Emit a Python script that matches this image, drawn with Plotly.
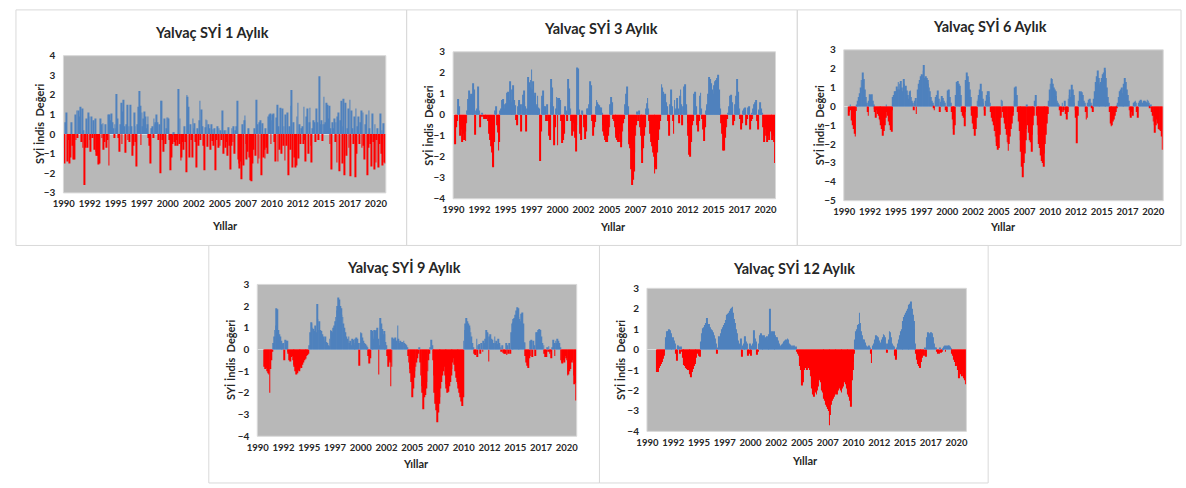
import plotly.graph_objects as go

# Monthly SPI (SYİ) values for Yalvaç, Jan 1990 - Dec 2020, one row per year
spi1 = [
    -0.7, -1.5, 0.6, 1.1, -1.4, -0.3, -1.5, -0.2, -1.2, 0.6, -0.6, -1.3,      # 1990
    -1.3, 1.0, -0.3, 1.2, -0.2, 1.2, 0.9, 1.4, -0.4, 1.3, -0.7, 0.2,          # 1991
    -2.6, -0.7, 0.8, -0.7, 1.1, 0.9, -0.3, -0.9, 0.9, -0.2, 0.7, -0.8,        # 1992
    0.8, -0.9, -1.1, -1.1, -1.55, -1.5, 0.8, 0.5, -0.2, 0.55, -0.8, -0.4,     # 1993
    0.5, -0.7, -0.3, 1.0, -1.6, 1.0, 0.7, 1.05, 0.6, 0.3, -0.2, 0.5,          # 1994
    0.3, 2.05, 0.8, -0.2, -0.9, 0.5, 1.6, -0.5, 1.15, 1.75, 0.4, -0.95,       # 1995
    0.5, 1.5, -0.3, 0.4, -0.4, 1.5, 0.4, -1.1, -0.6, 1.1, 0.4, -0.4,          # 1996
    -1.65, 0.5, 1.4, 2.2, 1.45, -0.55, 1.1, 0.4, 0.8, 1.15, 0.9, 0.3,         # 1997
    0.5, 0.9, -0.2, -0.6, -1.5, 0.3, 0.4, -0.2, 0.8, 0.5, 0.6, 1.0,           # 1998
    0.6, -0.3, 0.5, -2.0, 1.7, 1.7, -0.3, -0.9, 0.8, -0.5, 0.3, 0.85,         # 1999
    0.85, 0.8, -0.3, -1.85, -1.2, -0.5, 0.1, 0.1, -0.4, -0.6, -0.3, -0.6,     # 2000
    2.3, -0.5, 0.8, -1.35, -1.2, -0.4, -0.8, 0.4, -0.4, -1.95, 2.0, 1.9,      # 2001
    1.4, -1.2, 0.5, -0.3, -1.2, 0.8, 0.3, 0.55, -0.4, -1.7, 0.3, -0.6,        # 2002
    0.7, 1.7, -0.3, 1.25, 0.4, -0.6, -1.85, 0.35, 0.75, 0.7, -0.65, 0.5,      # 2003
    0.3, -0.8, 0.5, -0.35, 0.25, -0.6, 0.3, -1.85, -0.3, 0.4, -0.7, 0.3,      # 2004
    -0.6, 0.2, -0.3, 1.2, -1.0, 0.2, -0.7, 0.2, -0.4, -1.1, 0.35, -0.6,       # 2005
    -1.8, -0.6, 0.3, -0.4, 0.4, -1.0, 0.2, 0.4, 1.7, -1.3, -1.5, -1.75,       # 2006
    -1.4, -2.3, 0.5, -1.6, 0.7, 0.95, -0.5, -1.3, -0.9, 0.3, -1.2, -2.35,     # 2007
    -2.4, -1.2, -1.5, -0.8, 0.3, -1.1, 1.75, 0.5, -1.5, -1.25, 0.6, 0.7,      # 2008
    -2.1, 0.55, -1.2, -0.8, -1.25, 0.3, -0.7, -1.0, 0.9, 1.0, 1.05, -0.5,     # 2009
    0.7, 1.0, 1.05, -0.4, -1.4, 0.85, 1.5, -1.4, 0.4, -0.8, 1.35, -1.0,       # 2010
    1.3, -0.6, 0.4, -1.35, 1.0, -0.6, 1.1, -2.1, 0.4, -0.8, 1.45, 2.25,       # 2011
    -1.7, 0.6, -1.2, -1.7, -1.6, 0.9, 1.6, -1.25, 0.5, -0.5, 0.3, 0.4,        # 2012
    -0.5, 1.4, -0.3, -1.4, 0.9, 1.3, -1.0, 0.6, 1.35, -0.6, -1.45, 0.3,       # 2013
    0.7, 0.6, -0.4, 1.3, 0.5, 0.6, -0.3, 2.95, 0.5, 0.7, -0.35, 0.5,          # 2014
    1.9, 0.5, 0.6, 1.6, 1.5, 0.8, 1.45, -0.5, 0.3, -1.8, 0.6, 0.3,            # 2015
    0.8, -0.4, 0.6, -1.45, 0.9, 1.1, -1.9, 0.7, 1.7, -1.5, 0.4, 1.8,          # 2016
    -2.1, 1.6, -1.1, 0.3, 1.3, -0.7, 1.75, -2.15, 1.2, 0.3, -0.5, 0.9,        # 2017
    -2.2, 1.3, -1.0, 0.4, 0.9, -0.5, 0.6, 1.2, -0.7, 1.1, -0.6, -1.3,         # 2018
    0.5, 1.0, -2.1, -0.7, 1.2, 0.3, -0.5, -1.65, 1.05, -0.4, -1.8, 0.5,       # 2019
    -1.45, -0.3, 0.3, -1.7, -0.5, 1.05, -1.0, 0.2, -1.6, 0.55, -1.45, -1.5,   # 2020
]

spi3 = [
    None, None, -1.4, -0.6, -0.3, 0.75, 0.4, -0.5, -1.0, -0.7, -1.3, -0.9,    # 1990
    -1.2, -0.8, -1.25, -0.4, 0.2, 0.75, 1.15, 0.9, 1.0, 0.8, 1.0, 1.5,        # 1991
    1.2, -0.95, 0.2, 0.3, 1.35, 0.4, 0.2, -0.6, -0.1, 0.05, -0.1, -0.2,       # 1992
    -0.1, -0.2, -0.2, -0.1, -0.3, -0.9, -1.2, -1.5, -1.8, -2.45, -2.5, -1.3,  # 1993
    0.2, 0.4, -0.5, -0.85, -1.7, -1.3, 0.2, 0.3, 0.7, 0.75, 0.3, 0.5,         # 1994
    0.5, 0.55, 1.05, 1.1, 0.7, 1.6, 0.5, 0.6, 1.2, 1.4, 0.7, 0.45,            # 1995
    -0.25, -0.5, 0.4, 0.6, 0.7, 0.5, -0.8, 0.5, 0.95, 1.15, 0.6, 0.4,         # 1996
    -0.8, 0.3, 1.8, 1.55, 1.3, 1.65, 2.15, 1.2, 1.6, 0.9, 1.05, 0.4,          # 1997
    0.5, 0.9, 0.35, 0.3, -2.2, -0.8, 0.9, 1.15, 0.5, 0.4, 0.4, -0.3,          # 1998
    0.5, -0.3, -1.0, -1.2, 0.6, 1.7, 1.3, 0.4, -1.45, -0.6, 0.3, 0.85,        # 1999
    -1.45, 0.8, 0.8, 0.7, -0.3, -1.35, -1.2, -0.8, -0.9, 0.4, 0.2, -0.3,      # 2000
    1.7, 1.25, 0.6, 0.3, -0.3, -1.0, -0.4, -0.8, -1.1, -1.75, -0.5, 2.25,     # 2001
    2.2, 0.25, -0.9, -1.2, 0.2, 0.15, -0.2, -0.6, -1.15, -0.8, 0.3, 0.3,      # 2002
    0.5, 0.9, 1.6, 1.4, -0.3, -1.0, -0.6, -0.35, 0.4, 0.7, 0.6, 0.5,          # 2003
    0.45, 0.35, 0.35, 0.1, -0.5, -0.8, -1.0, -1.2, -1.3, -1.3, -1.0, -0.8,    # 2004
    -0.6, 0.5, 0.85, 0.6, -0.2, -0.3, -0.6, -0.9, -1.1, -1.2, -1.3, -0.9,     # 2005
    -1.3, -1.55, -1.3, -0.8, -0.4, -0.2, 0.5, 1.0, 1.35, 0.4, -0.8, -1.4,     # 2006
    -1.6, -2.6, -3.35, -3.1, -2.7, -1.8, -1.0, -0.5, 0.15, -0.3, 0.2, -0.6,   # 2007
    -1.0, -1.7, -2.3, -1.6, -1.0, -0.6, 0.3, 0.55, 0.8, 0.3, -0.3, -0.9,      # 2008
    -1.3, -1.5, -1.8, -2.0, -2.8, -2.5, -2.6, -1.8, -1.2, -0.7, -0.3, -0.1,   # 2009
    1.45, 1.3, 1.1, 0.9, 1.0, 0.6, 0.4, 0.2, -0.3, -1.0, 0.5, 1.2,            # 2010
    0.4, -0.3, -0.9, 0.7, 0.2, 0.3, 0.8, 0.3, -0.4, 0.9, 1.2, 0.5,            # 2011
    -0.5, 0.4, 1.35, 1.45, 0.5, 0.2, -0.4, -1.0, -1.9, -2.0, -1.3, -0.5,      # 2012
    -0.3, 0.2, 1.0, 1.1, 0.4, -0.5, -0.8, -0.3, 0.9, 1.05, 0.3, -0.2,         # 2013
    -0.7, -1.25, -0.6, 0.2, 0.4, 0.5, 1.0, 1.8, 1.7, 1.5, 1.2, 0.7,           # 2014
    1.0, 1.4, 1.6, 1.65, 1.75, 1.9, 1.2, 0.5, 0.3, -0.4, -0.9, -1.7,          # 2015
    -1.7, -1.1, -0.5, -0.6, -0.2, 0.1, 0.4, 0.9, 0.95, 0.6, 0.3, -0.5,        # 2016
    -0.3, 0.5, 0.9, 1.7, 1.1, 0.6, 0.3, -0.2, -0.7, -0.4, 0.2, 0.3,           # 2017
    0.35, 0.2, -0.5, -0.2, 0.35, 0.4, -0.7, -0.3, 0.1, -0.2, 0.3, 0.5,        # 2018
    0.6, 0.7, -0.3, -0.7, 0.25, 0.2, 0.6, 0.3, 0.1, -0.6, -1.3, -1.1,         # 2019
    -0.7, -1.0, -1.3, -1.0, -1.2, -0.8, -0.5, -0.9, -1.2, -1.0, -1.3, -2.3,   # 2020
]

spi6 = [
    None, None, None, None, None, -0.5, -0.3, 0.1, -0.2, -0.75, -1.0, -1.2,   # 1990
    -1.45, -1.6, -0.25, 0.1, 0.3, 0.5, 0.7, 1.0, 1.4, 1.2, 1.8, 1.45,         # 1991
    0.9, 0.5, 0.2, -0.3, -0.5, 0.3, 0.65, 0.6, 0.65, 0.3, 0.1, -0.15,         # 1992
    -0.3, -0.6, -0.2, -0.4, -0.5, -0.7, -0.8, -1.0, -1.2, -1.55, -1.3, -1.0,  # 1993
    -0.6, 0.1, -0.3, -0.5, -0.8, -1.0, -1.25, -1.35, -0.2, 0.5, 0.6, 0.8,     # 1994
    0.8, 1.05, 0.9, 1.3, 1.2, 0.9, 1.35, 1.0, 0.8, 1.45, 1.2, 0.8,            # 1995
    1.1, 0.85, 0.6, 0.4, 0.8, 0.85, 0.5, 0.3, 0.2, -0.2, 0.3, 0.45,           # 1996
    -0.4, 0.3, 0.9, 1.2, 1.4, 1.6, 1.7, 1.65, 1.9, 2.2, 1.5, 1.6,             # 1997
    1.5, 1.4, 1.2, 1.0, 0.8, 0.5, 0.3, 0.2, -0.1, -0.2, 0.3, 0.5,             # 1998
    0.6, 0.85, 0.4, -0.3, 0.25, 0.35, 0.55, 0.45, 0.3, 0.2, -0.2, -0.3,       # 1999
    0.3, 0.85, 0.9, 0.5, 0.2, -0.3, -0.7, -1.2, -1.5, -1.0, 0.6, 1.3,         # 2000
    1.35, 1.2, 0.7, 1.1, 0.6, -0.3, -0.5, -0.6, -1.05, -0.3, 1.4, 1.8,        # 2001
    1.6, 1.3, 0.9, 0.5, -0.2, -0.5, -0.9, -1.2, -1.55, -1.2, -0.6, 0.3,       # 2002
    0.4, 0.6, 0.9, 1.2, 0.8, 0.4, 0.2, -0.2, -0.5, 0.3, 0.6, 0.8,             # 2003
    0.8, 0.5, 0.2, -0.3, -0.6, -0.8, -1.0, -1.3, -1.6, -1.9, -2.1, -2.3,      # 2004
    -2.2, -1.5, -0.6, 0.35, 0.3, -0.3, -0.6, -0.9, -1.2, -1.5, -1.9, -2.35,   # 2005
    -2.0, -1.6, -1.2, -0.9, -0.5, -0.3, 0.3, 1.0, 1.05, 0.6, -0.3, -0.8,      # 2006
    -1.3, -1.8, -2.4, -3.2, -3.75, -3.0, -2.5, -1.8, -1.2, 0.1, -1.0, -1.4,   # 2007
    -1.8, -1.9, -2.4, -1.5, -1.0, -0.5, 0.3, 0.6, -0.5, -1.0, -1.5, -2.0,     # 2008
    -2.2, -2.6, -2.9, -3.0, -3.2, -2.5, -2.0, -1.5, -0.9, -0.4, 0.3, 0.9,     # 2009
    1.2, 1.5, 1.45, 1.2, 1.0, 0.9, 0.8, 0.55, 0.3, 0.2, 0.1, -0.2,            # 2010
    -0.5, -0.3, 0.2, -0.3, -0.2, 0.3, -0.4, -0.7, -0.3, 0.4, 0.6, 0.9,        # 2011
    0.5, 1.15, 0.9, 0.6, 0.2, -0.2, -0.6, -1.95, -0.5, 0.3, 0.8, 0.75,        # 2012
    0.8, 0.75, 0.6, 0.3, 0.2, -0.3, -0.7, -0.6, 0.2, 0.35, 0.4, 0.2,          # 2013
    -0.1, -0.3, 0.2, 0.4, 0.8, 1.3, 1.6, 1.9, 1.5, 1.2, 1.1, 1.3,             # 2014
    1.5, 1.7, 1.8, 2.05, 1.9, 1.5, 1.0, 0.5, 0.2, -0.3, -0.9, -1.05,          # 2015
    -1.0, -0.8, -0.7, -0.5, -0.3, -0.1, 0.1, 0.2, 0.5, 0.8, 0.9, 1.0,         # 2016
    0.7, 1.0, 1.2, 1.5, 1.3, 0.9, 0.6, 0.3, -0.2, -0.5, -0.6, -0.3,           # 2017
    -0.5, 0.2, 0.25, 0.3, 0.2, -0.3, -0.6, 0.2, 0.3, 0.35, 0.3, 0.2,          # 2018
    0.2, 0.3, 0.3, 0.25, 0.2, 0.35, 0.3, 0.2, -0.1, 0.1, -0.3, -0.5,          # 2019
    -0.8, -1.0, -1.4, -1.0, -0.7, -0.9, -1.2, -1.25, -1.2, -1.3, -1.6, -2.3,  # 2020
]

spi9 = [
    None, None, None, None, None, None, None, None, -0.8, -0.9, -0.85, -1.0,  # 1990
    -1.1, -1.15, -2.0, -0.9, -0.5, -0.1, 0.3, 0.6, 0.9, 1.1, 1.9, 1.85,       # 1991
    0.9, 0.7, 0.6, 0.4, 0.3, 0.25, 0.3, -0.5, 0.45, 0.4, 0.4, -0.1,           # 1992
    -0.2, -0.5, -0.55, -0.35, -0.3, -0.5, -0.7, -0.8, -1.0, -1.15, -1.1, -0.95,  # 1993
    -1.0, -0.9, -0.8, -0.85, -0.7, -0.6, -0.5, -0.4, -0.45, -0.3, -0.25, -0.2,   # 1994
    0.2, 0.8, 1.25, 1.2, 1.0, 0.95, 0.85, 1.1, 0.8, 2.1, 1.4, 0.9,            # 1995
    1.3, 0.9, 0.85, 0.7, 0.6, 0.5, 0.4, 0.6, 0.35, 0.3, 0.2, 0.15,            # 1996
    0.5, 0.9, 0.85, 0.8, 1.0, 1.1, 1.3, 1.5, 1.8, 2.0, 2.4, 2.3,              # 1997
    2.0, 1.9, 1.6, 1.5, 1.2, 1.0, 0.8, 0.6, 0.5, 0.4, 0.6, 0.3,               # 1998
    0.4, 0.2, 0.5, 0.45, 0.2, 0.3, 0.5, 0.55, 0.5, 0.3, -0.75, 0.3,           # 1999
    0.8, 0.75, 0.55, 0.4, 0.3, 0.25, 0.15, 0.2, 0.1, -0.3, -0.65, -0.4,       # 2000
    0.9, 0.85, 0.6, 0.5, 0.9, 0.85, 0.9, 1.0, 0.5, -1.15, 0.2, 1.45,          # 2001
    1.2, 0.95, 0.7, 0.85, 0.7, 0.35, 0.2, -0.3, -0.8, -0.5, -0.6, -1.7,       # 2002
    -0.8, 0.55, 0.5, 0.5, 0.55, 0.4, 0.4, 1.1, 0.5, 0.3, 0.4, 0.35,           # 2003
    0.35, 0.3, 0.4, 0.3, 0.25, 0.2, 0.1, -0.3, -0.6, -0.9, -1.1, -1.5,        # 2004
    -2.2, -1.8, -1.3, -1.0, -0.8, -0.6, -0.4, -0.2, 0.1, -0.6, -1.2, -1.7,    # 2005
    -2.0, -2.75, -2.2, -2.1, -1.8, -1.5, -1.0, -0.5, -0.2, 0.1, 0.45, 0.2,    # 2006
    -0.5, -1.2, -2.0, -2.5, -2.8, -3.35, -2.9, -2.5, -2.2, -1.8, -1.5, -1.2,  # 2007
    -1.0, -0.8, -1.2, -1.6, -1.8, -2.0, -1.95, -1.7, -1.5, -1.2, -0.9, -0.6,  # 2008
    -0.4, -0.7, -1.0, -1.3, -1.5, -1.6, -1.8, -2.0, -2.2, -2.4, -2.6, -2.2,   # 2009
    0.4, 0.9, 1.2, 1.45, 1.3, 1.2, 1.1, 1.0, 0.8, 0.6, 0.3, 0.1,              # 2010
    -0.2, -0.25, -0.2, 0.5, -0.35, 0.2, 0.25, -0.2, 0.3, 0.2, -0.1, 0.4,      # 2011
    0.3, 0.5, 0.9, 0.8, 0.75, -0.55, 0.6, 0.7, 0.5, 0.45, 0.3, 0.25,          # 2012
    0.6, 0.3, 0.4, 0.25, 0.5, 0.3, 0.2, 0.1, -0.1, 0.2, -0.15, -0.2,          # 2013
    -0.2, 0.3, -0.25, 0.2, -0.2, 0.3, -0.2, 0.8, 1.2, 1.25, 1.4, 1.45,        # 2014
    1.6, 1.8, 1.95, 1.9, 1.5, 1.4, 1.3, 1.65, 1.7, 1.2, 0.3, 0.35,            # 2015
    -0.3, -0.6, -0.75, -0.85, -0.4, 0.4, -0.3, 0.45, -0.35, 0.4, 0.2, -0.3,   # 2016
    0.8, 0.6, 0.8, 0.9, 0.95, 0.9, 0.6, 0.3, 0.1, 0.2, -0.2, -0.35,           # 2017
    -0.35, 0.1, -0.1, 0.15, -0.2, -0.1, -0.4, 0.1, 0.45, 0.3, -0.3, 0.4,      # 2018
    0.3, 0.5, 0.4, 0.3, 0.1, -0.5, -0.6, -0.65, -0.5, -0.6, -0.3, -0.4,       # 2019
    -0.5, -1.2, -1.15, -1.0, -0.9, -0.6, -0.5, -0.6, -1.2, -1.6, -1.55, -2.35,  # 2020
]

spi12 = [
    None, None, None, None, None, None, None, None, None, None, None, -1.1,   # 1990
    -1.1, -1.05, -0.9, -0.8, -0.7, -0.6, -0.45, -0.3, -0.1, 0.3, 0.6, 0.9,    # 1991
    0.9, 1.0, 0.95, 0.8, 0.7, 0.5, 0.6, 0.45, 0.3, -0.2, -0.55, 0.2,          # 1992
    0.2, 0.15, -0.2, 0.15, -0.1, -0.4, -0.6, -0.75, -0.8, -0.9, -0.95, -1.0,  # 1993
    -1.0, -1.05, -1.2, -1.35, -1.1, -0.95, -0.8, -0.7, -0.6, -0.4, -0.2, -0.15,  # 1994
    -0.3, -0.35, 0.4, 0.8, 0.95, 1.05, 1.1, 1.2, 1.3, 1.55, 1.35, 1.25,       # 1995
    1.25, 1.1, 1.0, 0.95, 0.85, 0.8, 0.7, 0.55, 0.3, -0.2, 0.1, 0.65,         # 1996
    0.35, 0.6, 0.8, 1.0, 1.1, 1.2, 1.3, 1.45, 1.6, 1.7, 1.75, 1.8,            # 1997
    1.9, 2.0, 2.05, 2.1, 1.8, 1.5, 1.3, 1.0, 0.8, 0.5, 0.45, 0.3,             # 1998
    0.25, 0.55, -0.35, 0.2, 0.3, 0.6, 0.65, 0.4, 0.3, -0.3, -0.2, 0.3,        # 1999
    0.2, -0.3, 0.2, 0.3, 0.95, 0.55, 0.4, 0.3, -0.25, -0.1, 0.3, 0.7,         # 2000
    0.8, 0.7, 0.6, 0.65, 0.7, 0.55, 0.6, 0.65, 0.5, 0.6, 0.75, 2.0,           # 2001
    0.9, 0.8, 0.9, 0.85, 0.9, 0.7, 0.6, 0.6, 0.45, 0.3, 0.2, 0.1,             # 2002
    0.1, 0.25, 0.3, 0.4, 0.45, 0.5, 0.45, 0.55, 0.5, 0.3, 0.25, 0.2,          # 2003
    0.1, 0.2, 0.15, 0.2, 0.1, 0.15, -0.1, -0.2, -0.3, -0.5, -0.8, -1.0,       # 2004
    -1.75, -1.6, -1.0, -0.9, -0.8, -0.9, -1.0, -0.8, -0.9, -1.0, -1.3, -1.7,  # 2005
    -1.9, -2.2, -2.3, -2.0, -2.1, -2.2, -2.0, -1.8, -1.5, -1.4, -1.6, -2.0,   # 2006
    -2.1, -2.3, -2.4, -2.5, -2.7, -2.8, -2.9, -3.0, -3.7, -3.2, -2.7, -2.5,   # 2007
    -2.4, -2.3, -2.2, -2.0, -2.1, -2.2, -2.0, -1.9, -1.8, -2.0, -2.1, -1.9,   # 2008
    -1.8, -1.6, -1.5, -1.7, -1.9, -2.0, -2.2, -2.3, -2.5, -2.8, -1.5, -1.0,   # 2009
    -0.6, -0.2, 0.5, 0.9, 1.0, 1.2, 1.25, 1.8, 1.3, 0.9, 0.7, 0.5,            # 2010
    0.5, 0.35, 0.3, 0.2, 0.1, 0.15, 0.2, 0.1, -0.2, -0.65, 0.1, 0.2,          # 2011
    0.3, 0.5, 0.7, 0.65, 0.55, 0.6, 0.45, 0.3, 0.35, 0.5, 0.6, 0.75,          # 2012
    0.7, 0.6, 0.3, -0.15, 0.3, 0.5, 0.9, 0.85, 0.6, 0.3, 0.2, 0.15,           # 2013
    -0.3, -0.5, -0.4, 0.1, 0.3, 0.5, 0.7, 0.9, 1.0, 1.2, 1.4, 1.6,            # 2014
    1.7, 1.8, 1.9, 2.0, 2.1, 2.2, 2.25, 2.35, 2.0, 1.7, 1.4, 1.0,             # 2015
    0.3, -0.2, -0.5, -0.7, -0.8, -0.9, -0.85, -0.6, -0.4, -0.2, -0.3, 0.1,    # 2016
    -0.35, 0.3, 0.6, 0.85, 0.8, 0.7, 0.85, 0.6, 0.8, 0.6, 0.3, 0.1,           # 2017
    0.1, -0.1, -0.2, -0.15, -0.2, 0.1, -0.15, -0.1, 0.05, 0.15, 0.2, -0.1,    # 2018
    0.2, 0.15, 0.2, 0.2, 0.15, 0.1, 0.05, -0.2, -0.3, -0.5, -0.6, -0.8,       # 2019
    -0.6, -0.8, -1.0, -1.4, -1.1, -1.2, -1.3, -1.0, -1.2, -1.4, -1.5, -1.7,   # 2020
]

# Category-axis labels, one every 30 months
tick_labels = ["1990", "1992", "1995", "1997", "2000", "2002", "2005",
               "2007", "2010", "2012", "2015", "2017", "2020"]
titles = ["Yalvaç SYİ 1 Aylık", "Yalvaç SYİ 3 Aylık", "Yalvaç SYİ 6 Aylık",
          "Yalvaç SYİ 9 Aylık", "Yalvaç SYİ 12 Aylık"]
y_title = "SYİ İndis  Değeri"
x_title = "Yıllar"

W, H = 1186, 488
FONT = "Lato"
TXT = "#262626"
BLUE = "#4F81BD"
RED = "#FF0000"


def fx(p):
    return p / W


def fy(p):
    return 1 - p / H


# pixel layout of each chart: plot box (left, right, top, bottom), y range,
# title centre, y-title x, x-title centre, outer frame
panels = [
    dict(data=spi1, box=(53, 379, 50, 191), yr=(-3, 4), title=(203, 26),
         ytx=29, xt=(216, 224), frame=(5, 400, 3, 245)),
    dict(data=spi3, box=(447, 773, 46, 197), yr=(-4, 3), title=(597, 22),
         ytx=422, xt=(609, 226), frame=(400, 795, 3, 245)),
    dict(data=spi6, box=(842, 1165, 44, 199), yr=(-5, 3), title=(990, 20),
         ytx=817, xt=(1003, 226), frame=(795, 1183, 3, 245)),
    dict(data=spi9, box=(249, 572, 285, 441), yr=(-4, 3), title=(397, 267),
         ytx=222, xt=(409, 469), frame=(200, 595, 245, 489)),
    dict(data=spi12, box=(643, 966, 289, 436), yr=(-4, 3), title=(792, 268),
         ytx=617, xt=(803, 466), frame=(595, 988, 245, 489)),
]

n_months = len(spi1)
months = list(range(n_months))
tickvals = [30 * i for i in range(len(tick_labels))]

fig = go.Figure()
layout = dict(
    width=W, height=H, margin=dict(l=0, r=0, t=0, b=0),
    paper_bgcolor="white", plot_bgcolor="#B8B8B8",
    showlegend=False, bargap=0.08,
    font=dict(family=FONT, color=TXT),
)
annotations = []
shapes = []

for i, p in enumerate(panels):
    k = "" if i == 0 else str(i + 1)
    vals = p["data"]
    colors = [BLUE if (v is not None and v >= 0) else RED for v in vals]
    fig.add_trace(go.Bar(
        x=months, y=vals, marker=dict(color=colors, line=dict(width=0)),
        xaxis="x" + k, yaxis="y" + k, hoverinfo="x+y",
    ))
    l, r, t, b = p["box"]
    layout["xaxis" + k] = dict(
        domain=[fx(l), fx(r)], anchor="y" + k, range=[-0.5, n_months - 0.5],
        tickmode="array", tickvals=tickvals, ticktext=tick_labels,
        showgrid=False, zeroline=False, showline=False, ticks="",
        ticklabelstandoff=4,
        tickfont=dict(family=FONT, size=9.5, color=TXT, weight="bold"),
        fixedrange=True,
    )
    layout["yaxis" + k] = dict(
        domain=[fy(b), fy(t)], anchor="x" + k, range=list(p["yr"]),
        dtick=1, showgrid=False, zeroline=True, zerolinecolor="#D9D9D9",
        zerolinewidth=1, showline=False, ticks="",
        ticklabelstandoff=7,
        tickfont=dict(family=FONT, size=10, color=TXT, weight="bold"),
        fixedrange=True,
    )
    annotations.append(dict(
        text=titles[i], x=fx(p["title"][0]), y=fy(p["title"][1]),
        xref="paper", yref="paper", showarrow=False,
        xanchor="center", yanchor="middle",
        font=dict(family=FONT, size=14.5, color=TXT, weight="bold"),
    ))
    annotations.append(dict(
        text=y_title, x=fx(p["ytx"]), y=fy((t + b) / 2),
        xref="paper", yref="paper", showarrow=False, textangle=-90,
        xanchor="center", yanchor="middle",
        font=dict(family=FONT, size=11, color=TXT, weight="bold"),
    ))
    annotations.append(dict(
        text=x_title, x=fx(p["xt"][0]), y=fy(p["xt"][1]),
        xref="paper", yref="paper", showarrow=False,
        xanchor="center", yanchor="middle",
        font=dict(family=FONT, size=11, color=TXT, weight="bold"),
    ))
    # thin light edge around the plot area
    shapes.append(dict(type="rect", xref="paper", yref="paper",
                       x0=fx(l), x1=fx(r), y0=fy(b), y1=fy(t),
                       line=dict(color="#D9D9D9", width=1), layer="above"))
    # outer chart frame
    f0, f1, f2, f3 = p["frame"]
    shapes.append(dict(type="rect", xref="paper", yref="paper",
                       x0=fx(f0), x1=fx(f1), y0=fy(f3), y1=fy(f2),
                       line=dict(color="#D9D9D9", width=1), layer="below"))

layout["annotations"] = annotations
layout["shapes"] = shapes
fig.update_layout(**layout)
fig.write_html("out.html")
